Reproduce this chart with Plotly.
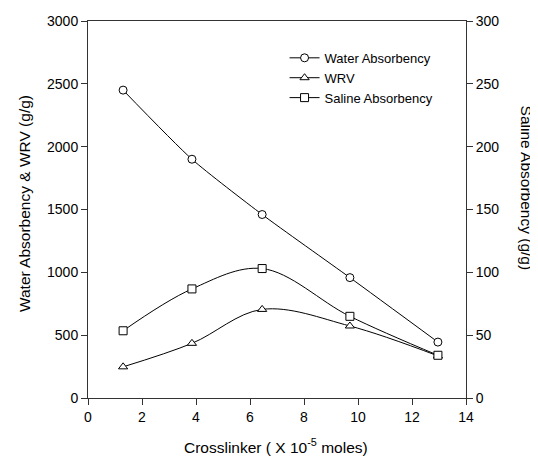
import plotly.graph_objects as go

crosslinker = [1.3, 3.85, 6.45, 9.7, 12.96]
water_absorbency = [2450, 1900, 1460, 958, 445]
wrv = [248, 435, 705, 573, 335]
saline_absorbency = [53.5, 86.8, 103, 65, 34]

x_title = "Crosslinker ( X 10<sup>-5</sup> moles)"
y_title = "Water Absorbency & WRV (g/g)"
y2_title = "Saline Absorbency (g/g)"

FONT = "Liberation Sans, Arial, sans-serif"

def marker(sym):
    return dict(symbol=sym, size=8, color="white", line=dict(color="black", width=1))

fig = go.Figure()
fig.add_trace(go.Scatter(x=crosslinker, y=water_absorbency, name="Water Absorbency",
                         mode="lines+markers", line=dict(color="black", width=1, shape="spline", smoothing=0.6),
                         marker=marker("circle")))
fig.add_trace(go.Scatter(x=crosslinker, y=wrv, name="WRV",
                         mode="lines+markers", line=dict(color="black", width=1, shape="spline", smoothing=1),
                         marker=marker("triangle-up")))
fig.add_trace(go.Scatter(x=crosslinker, y=saline_absorbency, name="Saline Absorbency", yaxis="y2",
                         mode="lines+markers", line=dict(color="black", width=1, shape="spline", smoothing=1),
                         marker=marker("square")))

axis_common = dict(showline=True, linecolor="#333", linewidth=1, ticks="outside", ticklen=6,
                   tickcolor="#333", showgrid=False, zeroline=False, automargin=False,
                   tickfont=dict(family=FONT, size=14, color="black"))

title_font = dict(family=FONT, size=15.5, color="black")

# page body has an 8px margin, so the figure is sized/offset to compensate
fig.update_layout(
    width=530, height=448,
    paper_bgcolor="white", plot_bgcolor="white",
    margin=dict(l=80, r=71.5, t=13, b=58),
    font=dict(family=FONT, color="black"),
    xaxis=dict(range=[0, 14], dtick=2, mirror=True, **axis_common),
    yaxis=dict(range=[0, 3000], dtick=500, **axis_common),
    yaxis2=dict(range=[0, 300], dtick=50, overlaying="y", side="right", **axis_common),
    legend=dict(x=0.52, y=0.942, xanchor="left", yanchor="top", bgcolor="rgba(0,0,0,0)",
                font=dict(family=FONT, size=13, color="black"), itemwidth=30, tracegroupgap=0),
    showlegend=True,
    annotations=[
        dict(text=x_title, xref="paper", yref="paper", x=0.4967, y=-0.1273,
             xanchor="center", yanchor="middle", showarrow=False, font=title_font),
        dict(text=y_title, xref="paper", yref="paper", x=-0.1664, y=0.5146, textangle=-90,
             xanchor="center", yanchor="middle", showarrow=False, font=title_font),
        dict(text=y2_title, xref="paper", yref="paper", x=1.1625, y=0.557, textangle=90,
             xanchor="center", yanchor="middle", showarrow=False, font=title_font),
    ],
)

fig.write_html("out.html")
